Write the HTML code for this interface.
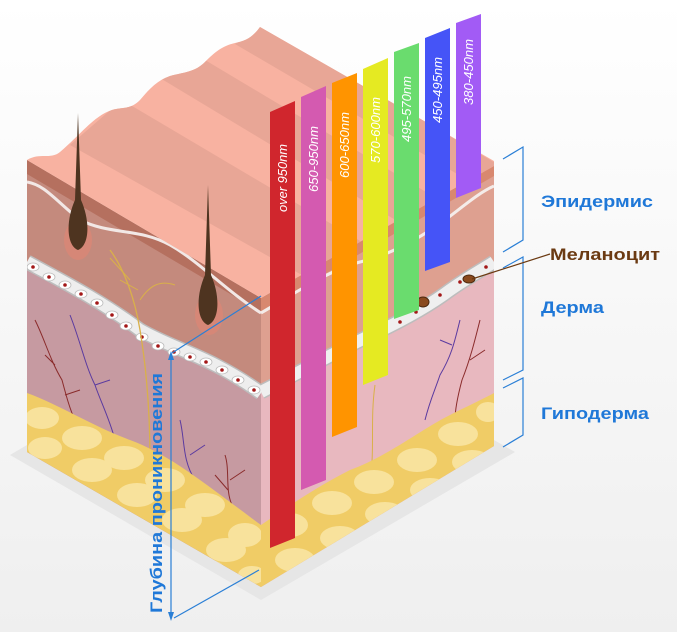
<!DOCTYPE html>
<html><head><meta charset="utf-8"><style>
html,body{margin:0;padding:0;background:#fff;}
svg{display:block;}
.lb{font-family:"Liberation Sans",sans-serif;font-weight:bold;font-size:17px;fill:#1f78d8;}
.nm{font-family:"Liberation Sans Narrow","Liberation Sans",sans-serif;font-style:italic;font-size:13px;fill:#fff;}
</style></head><body>
<svg width="677" height="632" viewBox="0 0 677 632" xmlns="http://www.w3.org/2000/svg">
<defs>
<linearGradient id="bg" x1="0" y1="0" x2="0" y2="1"><stop offset="0" stop-color="#ffffff"/><stop offset="1" stop-color="#efefef"/></linearGradient>
<clipPath id="cl"><polygon points="27,160 261,298 261,587 27,452"/></clipPath>
<clipPath id="cr"><polygon points="261,298 494,163 494,446 261,587"/></clipPath>
<clipPath id="ct"><path d="M27,160 C40,152 50,160 60,152 C80,135 95,115 112,110 C122,107 130,110 140,100 C150,88 158,80 170,76 C185,72 195,72 205,62 C215,52 222,46 235,43 C245,41 252,38 260,27 L494,161 L494,166 L261,298 Z"/></clipPath>
</defs>
<rect width="677" height="632" fill="url(#bg)"/>
<polygon points="10,455 261,600 515,452 494,440 261,580 27,445" fill="#e6e6e6"/>

<!-- LEFT FACE -->
<g clip-path="url(#cl)">
<rect x="0" y="0" width="300" height="632" fill="#c48a7d"/>
<path d="M0,150 L27,160 L261,298 L261,312 L27,174 Z" fill="#b5705f"/>
<path d="M27,182 C45,185 55,200 80,220 C110,235 140,228 170,245 C200,262 225,290 261,313" fill="none" stroke="#f2e8e6" stroke-width="3"/>
<path d="M27,262 C60,280 100,300 140,330 C175,350 210,356 261,393 L261,600 L27,600 Z" fill="#c69aa1"/>
<path d="M27,262 C60,280 100,300 140,330 C175,350 210,356 261,393" fill="none" stroke="#bdbdbd" stroke-width="15"/>
<path d="M27,262 C60,280 100,300 140,330 C175,350 210,356 261,393" fill="none" stroke="#eeeeee" stroke-width="12"/>
<g fill="#fff" stroke="#bbb" stroke-width="0.8">
<ellipse cx="33" cy="267" rx="6" ry="4"/><ellipse cx="49" cy="277" rx="6" ry="4"/><ellipse cx="65" cy="285" rx="6" ry="4"/><ellipse cx="81" cy="294" rx="6" ry="4"/><ellipse cx="97" cy="303" rx="6" ry="4"/><ellipse cx="112" cy="315" rx="6" ry="4"/><ellipse cx="126" cy="326" rx="6" ry="4"/><ellipse cx="142" cy="337" rx="6" ry="4"/><ellipse cx="158" cy="346" rx="6" ry="4"/><ellipse cx="174" cy="352" rx="6" ry="4"/><ellipse cx="190" cy="357" rx="6" ry="4"/><ellipse cx="206" cy="362" rx="6" ry="4"/><ellipse cx="222" cy="370" rx="6" ry="4"/><ellipse cx="238" cy="380" rx="6" ry="4"/><ellipse cx="254" cy="390" rx="6" ry="4"/>
</g>
<g fill="#a31818">
<circle cx="33" cy="267" r="1.8"/><circle cx="49" cy="277" r="1.8"/><circle cx="65" cy="285" r="1.8"/><circle cx="81" cy="294" r="1.8"/><circle cx="97" cy="303" r="1.8"/><circle cx="112" cy="315" r="1.8"/><circle cx="126" cy="326" r="1.8"/><circle cx="142" cy="337" r="1.8"/><circle cx="158" cy="346" r="1.8"/><circle cx="174" cy="352" r="1.8"/><circle cx="190" cy="357" r="1.8"/><circle cx="206" cy="362" r="1.8"/><circle cx="222" cy="370" r="1.8"/><circle cx="238" cy="380" r="1.8"/><circle cx="254" cy="390" r="1.8"/>
</g>
<path d="M35,320 C45,340 50,360 62,380 C66,395 70,410 75,420 M55,365 L45,355 M65,395 L80,390" stroke="#8a2b2b" stroke-width="1" fill="none"/>
<path d="M70,315 C80,340 85,365 95,385 C100,400 110,420 115,440 M95,385 L110,380" stroke="#5a3aa0" stroke-width="1" fill="none"/>
<path d="M180,420 C185,440 182,460 195,480 M190,455 L205,445" stroke="#5a3aa0" stroke-width="1" fill="none"/>
<path d="M225,455 C230,470 225,490 232,505 M230,480 L245,470 M228,490 L215,475" stroke="#8a2b2b" stroke-width="1" fill="none"/>
<path d="M110,250 C125,270 135,300 140,330 C145,360 150,400 150,460" stroke="#d9b04a" stroke-width="1.3" fill="none"/>
<path d="M140,300 C150,285 160,280 175,285 M130,280 L110,258 M138,290 L120,280" stroke="#d9b04a" stroke-width="1" fill="none"/>
<path d="M27,393 C60,405 90,425 130,440 C170,455 200,480 261,525 L261,600 L27,600 Z" fill="#f0cc66"/>
<g fill="#f8e29c">
<ellipse cx="42" cy="418" rx="17" ry="11"/><ellipse cx="82" cy="438" rx="20" ry="12"/><ellipse cx="124" cy="458" rx="20" ry="12"/><ellipse cx="165" cy="480" rx="20" ry="12"/><ellipse cx="205" cy="505" rx="20" ry="12"/><ellipse cx="245" cy="535" rx="17" ry="12"/>
<ellipse cx="45" cy="448" rx="17" ry="11"/><ellipse cx="92" cy="470" rx="20" ry="12"/><ellipse cx="137" cy="495" rx="20" ry="12"/><ellipse cx="182" cy="520" rx="20" ry="12"/><ellipse cx="226" cy="550" rx="20" ry="12"/><ellipse cx="252" cy="575" rx="14" ry="9"/>
<ellipse cx="70" cy="495" rx="20" ry="11"/><ellipse cx="115" cy="520" rx="20" ry="11"/><ellipse cx="160" cy="545" rx="20" ry="11"/><ellipse cx="205" cy="570" rx="20" ry="11"/>
</g>
</g>

<!-- RIGHT FACE -->
<g clip-path="url(#cr)">
<rect x="250" y="100" width="260" height="520" fill="#dea090"/>
<path d="M261,298 L494,163 L494,176 L261,311 Z" fill="#d8886f"/>
<path d="M261,313 C300,290 330,270 360,262 C390,255 420,238 445,220 C465,205 480,192 494,186" fill="none" stroke="#f4ece9" stroke-width="3"/>
<path d="M261,392 C300,372 330,355 365,338 C400,322 430,305 450,290 C470,276 485,268 494,262 L494,600 L261,600 Z" fill="#e8b8bf"/>
<path d="M261,392 C300,372 330,355 365,338 C400,322 430,305 450,290 C470,276 485,268 494,262" fill="none" stroke="#bdbdbd" stroke-width="15"/>
<path d="M261,392 C300,372 330,355 365,338 C400,322 430,305 450,290 C470,276 485,268 494,262" fill="none" stroke="#efefef" stroke-width="12"/>
<g fill="#a31818"><circle cx="275" cy="385" r="1.8"/><circle cx="400" cy="322" r="1.8"/><circle cx="416" cy="312" r="1.8"/><circle cx="440" cy="295" r="1.8"/><circle cx="460" cy="282" r="1.8"/><circle cx="486" cy="267" r="1.8"/></g>
<ellipse cx="423" cy="302" rx="6" ry="5" fill="#8a4a1e" stroke="#4e2a10"/>
<ellipse cx="469" cy="279" rx="6" ry="4" fill="#8a4a1e" stroke="#4e2a10"/>
<path d="M460,320 C455,340 452,355 440,375 C435,390 430,400 425,420 M452,345 L440,340" stroke="#5a3aa0" stroke-width="1" fill="none"/>
<path d="M480,320 C475,340 470,360 462,380 C458,395 455,410 455,420 M470,360 L485,350" stroke="#8a2b2b" stroke-width="1" fill="none"/>
<path d="M375,385 C370,420 375,450 370,480" stroke="#d9b04a" stroke-width="1" fill="none"/>
<path d="M261,525 C290,505 320,485 350,470 C390,455 420,430 450,415 C470,405 485,398 494,393 L494,600 L261,600 Z" fill="#f0cc66"/>
<g fill="#f8e29c">
<ellipse cx="290" cy="525" rx="18" ry="12"/><ellipse cx="332" cy="503" rx="20" ry="12"/><ellipse cx="374" cy="482" rx="20" ry="12"/><ellipse cx="417" cy="460" rx="20" ry="12"/><ellipse cx="458" cy="434" rx="20" ry="12"/><ellipse cx="488" cy="412" rx="12" ry="10"/>
<ellipse cx="295" cy="560" rx="20" ry="12"/><ellipse cx="340" cy="538" rx="20" ry="12"/><ellipse cx="385" cy="514" rx="20" ry="12"/><ellipse cx="430" cy="490" rx="20" ry="12"/><ellipse cx="472" cy="462" rx="20" ry="12"/>
<ellipse cx="350" cy="572" rx="18" ry="10"/><ellipse cx="398" cy="548" rx="20" ry="11"/><ellipse cx="442" cy="522" rx="20" ry="11"/><ellipse cx="482" cy="495" rx="14" ry="10"/>
</g>
</g>

<!-- TOP FACE -->
<g clip-path="url(#ct)">
<rect x="0" y="0" width="520" height="320" fill="#f8b2a1"/>
<g fill="#e8a696">
<polygon points="70,145 122,100 460,300 400,330"/>
<polygon points="160,78 205,60 540,260 495,280"/>
<polygon points="235,44 262,25 600,225 570,240"/>
</g>
</g>

<!-- hair follicles -->
<ellipse cx="78" cy="240" rx="14" ry="20" fill="#d68777"/>
<path d="M78,113 L81,200 C90,220 90,245 78,250 C66,245 66,220 75,200 Z" fill="#4e3420"/>
<ellipse cx="209" cy="315" rx="14" ry="20" fill="#d68777"/>
<path d="M208,185 L211,275 C220,295 220,320 208,325 C196,320 196,295 205,275 Z" fill="#4e3420"/>

<!-- BARS -->
<polygon points="270,112 295,101 295,538 270,548" fill="#d0262d"/>
<polygon points="301,97 326,86 326,480 301,490" fill="#d45ab0"/>
<polygon points="332,83 357,73 357,427 332,437" fill="#ff9400"/>
<polygon points="363,69 388,58 388,375 363,385" fill="#e5ea22"/>
<polygon points="394,52 419,43 419,310 394,319" fill="#6adc6e"/>
<polygon points="425,38 450,28 450,262 425,271" fill="#4554f7"/>
<polygon points="456,23 481,14 481,188 456,198" fill="#a25bf5"/>
<text class="nm" transform="translate(287,212) rotate(-90)" textLength="68" lengthAdjust="spacingAndGlyphs">over 950nm</text>
<text class="nm" transform="translate(318,192) rotate(-90)" textLength="66" lengthAdjust="spacingAndGlyphs">650-950nm</text>
<text class="nm" transform="translate(349,178) rotate(-90)" textLength="66" lengthAdjust="spacingAndGlyphs">600-650nm</text>
<text class="nm" transform="translate(380,163) rotate(-90)" textLength="66" lengthAdjust="spacingAndGlyphs">570-600nm</text>
<text class="nm" transform="translate(411,142) rotate(-90)" textLength="66" lengthAdjust="spacingAndGlyphs">495-570nm</text>
<text class="nm" transform="translate(442,123) rotate(-90)" textLength="66" lengthAdjust="spacingAndGlyphs">450-495nm</text>
<text class="nm" transform="translate(473,105) rotate(-90)" textLength="66" lengthAdjust="spacingAndGlyphs">380-450nm</text>

<g stroke="#2a7fd6" stroke-width="1.2" fill="none">
<line x1="171" y1="356" x2="171" y2="617"/>
<line x1="172" y1="353" x2="261" y2="296"/>
<line x1="174" y1="618" x2="259" y2="570"/>
</g>
<polygon points="171,351 168,360 174,360" fill="#2a7fd6"/>
<polygon points="171,621 168,612 174,612" fill="#2a7fd6"/>
<text class="lb" transform="translate(162,613) rotate(-90)" textLength="240" lengthAdjust="spacingAndGlyphs">Глубина проникновения</text>

<g stroke="#2a7fd6" stroke-width="1.2" fill="none">
<polyline points="503,159 523,147 523,240 503,252"/>
<polyline points="503,268 523,257 523,370 503,380"/>
<polyline points="503,388 523,378 523,435 503,447"/>
</g>
<line x1="472" y1="279" x2="550" y2="254" stroke="#6b3a12" stroke-width="1.2"/>
<text class="lb" x="541" y="207" textLength="112" lengthAdjust="spacingAndGlyphs">Эпидермис</text>
<text class="lb" x="550" y="260" textLength="110" lengthAdjust="spacingAndGlyphs" style="fill:#6b3a12">Меланоцит</text>
<text class="lb" x="541" y="313" textLength="63" lengthAdjust="spacingAndGlyphs">Дерма</text>
<text class="lb" x="541" y="419" textLength="108" lengthAdjust="spacingAndGlyphs">Гиподерма</text>
</svg>
</body></html>
